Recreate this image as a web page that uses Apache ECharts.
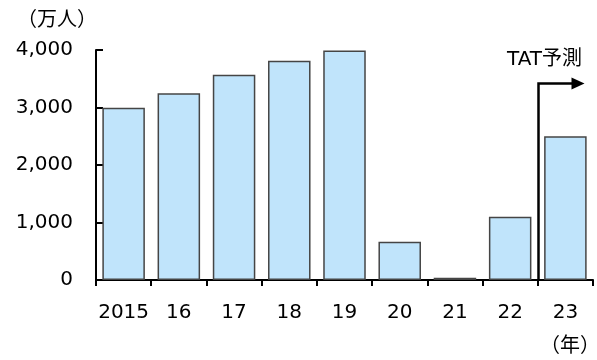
<!DOCTYPE html>
<html>
<head>
<meta charset="utf-8">
<script src="https://cdn.jsdelivr.net/npm/echarts@6/dist/echarts.min.js"></script>
<style>
  html, body { margin: 0; padding: 0; background: #fff; }
  #main { width: 597px; height: 360px; }
</style>
</head>
<body>
<div id="main"></div>
<script>
const years = ['2015', '16', '17', '18', '19', '20', '21', '22', '23'];
const visitors = [2995, 3250, 3570, 3815, 3990, 665, 40, 1100, 2500];
const yTicks = [0, 1000, 2000, 3000, 4000];
const forecastFrom = '23';
const forecastLabel = 'TAT予測';
const arrowLevel = 3430;

const font = 'DejaVu Sans, Verdana, "Noto Sans CJK JP", sans-serif';
const cjk = '"Noto Sans CJK JP", sans-serif';
const chart = echarts.init(document.getElementById('main'));

const unitTexts = [
  { type: 'text', left: 17, top: 8, style: { text: '（万人）', fontSize: 20, fontFamily: cjk, fill: '#000' } },
  { type: 'text', left: 540, top: 334, style: { text: '（年）', fontSize: 20, fontFamily: cjk, fill: '#000' } }
];

chart.setOption({
  animation: false,
  grid: { left: 96, right: 4, top: 50, bottom: 80 },
  xAxis: {
    type: 'category',
    data: years,
    axisLine: { lineStyle: { color: '#000', width: 2 } },
    axisTick: { show: true, length: 6, lineStyle: { color: '#000', width: 2 } },
    axisLabel: { color: '#000', fontSize: 20, fontFamily: font, margin: 23, interval: 0 }
  },
  yAxis: {
    type: 'value',
    min: yTicks[0],
    max: yTicks[yTicks.length - 1],
    interval: 1000,
    splitLine: { show: false },
    axisLine: { show: true, lineStyle: { color: '#000', width: 2 } },
    axisTick: { show: true, inside: true, length: 7, lineStyle: { color: '#000', width: 2 } },
    axisLabel: {
      color: '#000', fontSize: 20, fontFamily: font, margin: 23,
      formatter: v => v.toLocaleString('en-US')
    }
  },
  series: [{
    type: 'bar',
    data: visitors,
    barCategoryGap: '23%',
    itemStyle: { color: '#c0e4fb', borderColor: '#454545', borderWidth: 1.5 }
  }],
  graphic: unitTexts
});

// forecast marker on the boundary between 22 and 23
const idx = years.indexOf(forecastFrom);
const xPrev = chart.convertToPixel({ xAxisIndex: 0 }, years[idx - 1]);
const xCur = chart.convertToPixel({ xAxisIndex: 0 }, years[idx]);
const xb = Math.round((xPrev + xCur) / 2) + 0.5;
const y0 = chart.convertToPixel({ yAxisIndex: 0 }, 0);
const ya = Math.round(chart.convertToPixel({ yAxisIndex: 0 }, arrowLevel)) + 0.5;
const xEnd = xb + 46;

chart.setOption({
  graphic: unitTexts.concat([
    {
      type: 'polyline', z: 10,
      shape: { points: [[xb, y0], [xb, ya], [xEnd - 8, ya]] },
      style: { stroke: '#000', lineWidth: 2.5, fill: null }
    },
    {
      type: 'polygon', z: 10,
      shape: { points: [[xEnd - 13, ya - 6], [xEnd, ya], [xEnd - 13, ya + 6]] },
      style: { fill: '#000' }
    },
    {
      type: 'text', z: 10, x: xb + 6, y: ya - 24,
      style: { text: forecastLabel, fontSize: 20, fontFamily: font, fill: '#000', align: 'center', verticalAlign: 'middle' }
    }
  ])
}, { replaceMerge: ['graphic'] });
</script>
</body>
</html>
